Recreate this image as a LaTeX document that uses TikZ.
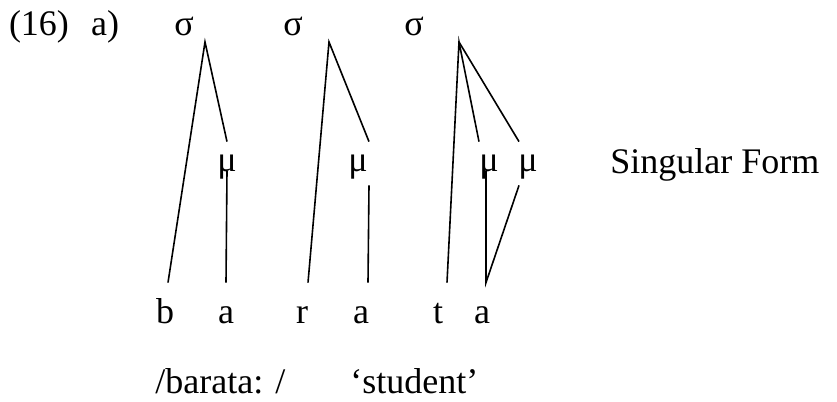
\documentclass[tikz,border=0pt]{standalone}
\usepackage{fontspec}
\setmainfont{Liberation Serif}
\usepackage{tikz}

\begin{document}
\begin{tikzpicture}[x=0.5pt, y=-0.5pt,
  every node/.style={font=\fontsize{18}{21}\selectfont, inner sep=0pt},
  syl/.style={anchor=base},
  mora/.style={anchor=base, text height=14.5pt, text depth=7pt},
  seg/.style={anchor=base, text height=20pt},
  assoc/.style={line width=0.8pt}
]
  \useasboundingbox (0,0) rectangle (837,402);

  % example number and syllables
  \node[syl] (num) at (39,35)  {(16)};
  \node[syl] (sub) at (105,35) {a)};
  \node[syl] (s1)  at (184,35) {σ};
  \node[syl] (s2)  at (293,35) {σ};
  \node[syl] (s3)  at (414,35) {σ};
  \coordinate (s1a) at (205,42);
  \coordinate (s2a) at (329,42);
  \coordinate (s3a) at (459,42);

  % moras
  \node[mora] (m1) at (227,171) {μ};
  \node[mora] (m2) at (358,171) {μ};
  \node[mora] (m3) at (489,171) {μ};
  \node[mora] (m4) at (528,171) {μ};
  \node[anchor=base west] (form) at (610,173) {Singular Form};

  % segments
  \node[seg] (b)  at (165,323) {b};
  \node[seg] (a1) at (226,323) {a};
  \node[seg] (r)  at (302,323) {r};
  \node[seg] (a2) at (361,323) {a};
  \node[seg] (t)  at (438,323) {t};
  \node[seg] (a3) at (482,323) {a};

  \node[anchor=base west] (ipa)   at (155,393) {/barata: /};
  \node[anchor=base west] (gloss) at (350,393) {‘student’};

  \draw[assoc] ([xshift=1.5pt]b.north) -- (s1a) -- (m1.north);
  \draw[assoc] (m1.base) -- (a1.north);
  \draw[assoc] ([xshift=3pt]r.north) -- (s2a) -- ([xshift=5.5pt]m2.north);
  \draw[assoc] ([xshift=5.5pt]m2.south) -- ([xshift=3.5pt]a2.north);
  \draw[assoc] ([xshift=4.5pt]t.north) -- (s3a) -- ([xshift=-5pt]m3.north);
  \draw[assoc] (s3a) -- ([xshift=-4.5pt]m4.north);
  \draw[assoc] ([xshift=-1.5pt]m3.base) -- ([xshift=2pt]a3.north)
               -- ([xshift=-4.5pt]m4.south);
\end{tikzpicture}
\end{document}
